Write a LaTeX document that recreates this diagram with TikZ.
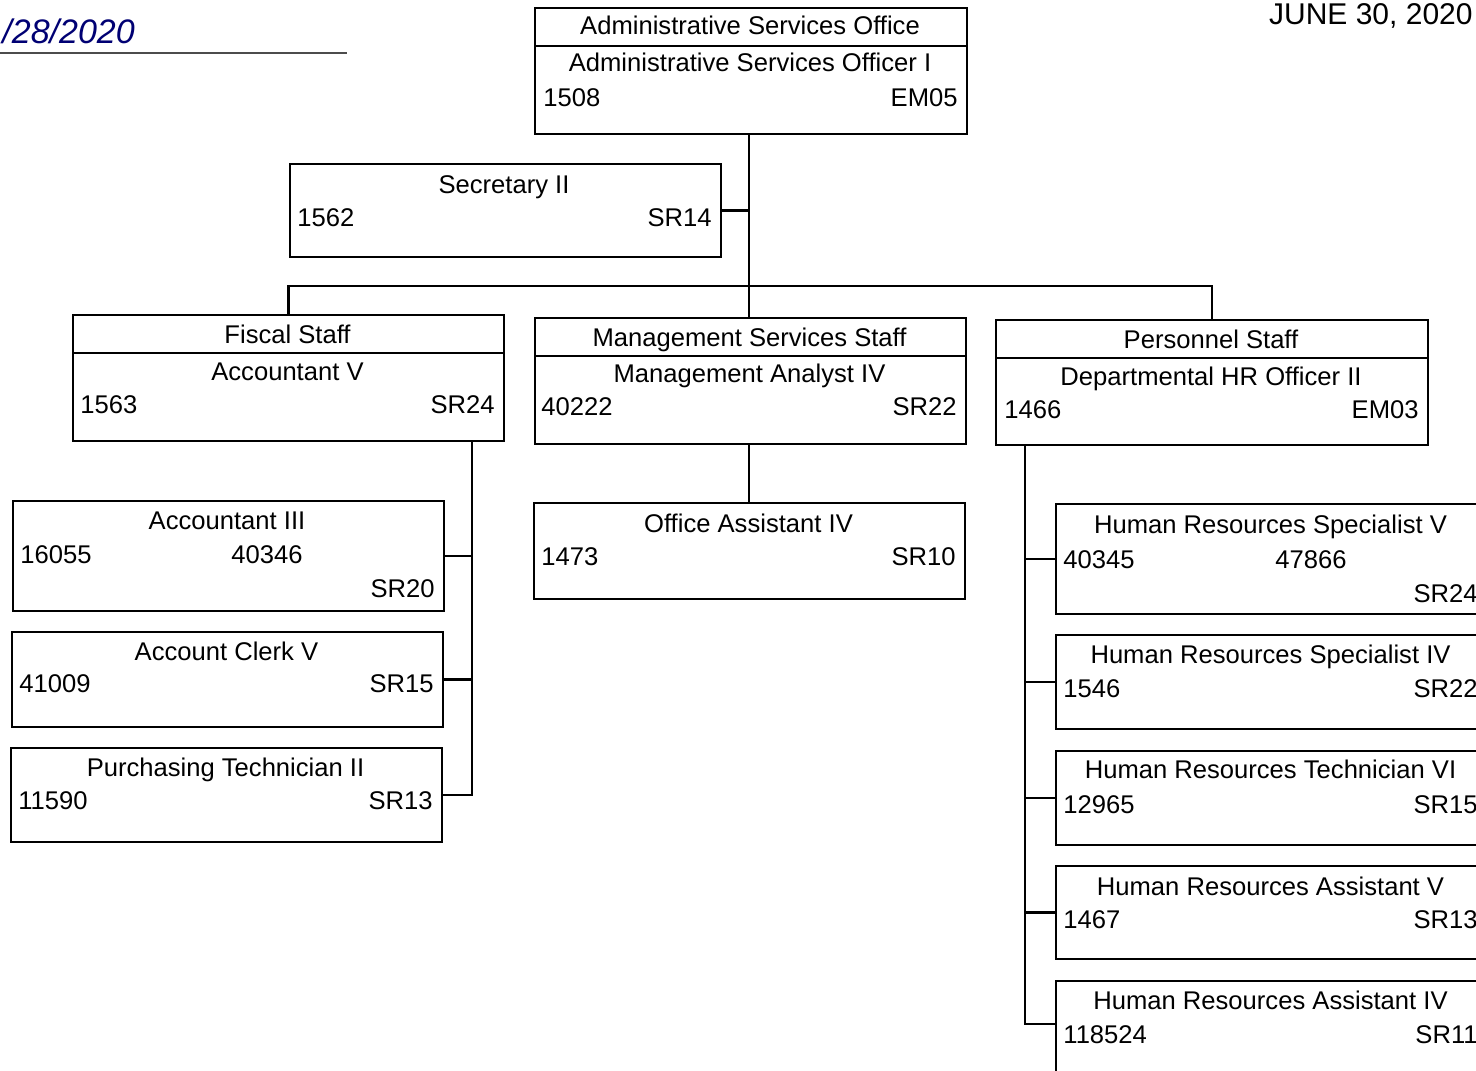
\documentclass[tikz,border=0pt]{standalone}
\usepackage{fontspec}
\setmainfont{Liberation Sans}
\begin{document}
\begin{tikzpicture}[x=0.5pt,y=-0.5pt,
  box/.style={draw, line width=1pt, rectangle, inner sep=0pt, anchor=north west},
  conn/.style={line width=1.2pt},
  t/.style={font=\fontsize{12.8}{15}\selectfont, inner sep=0pt, anchor=base},
  tl/.style={t, anchor=base west},
  tr/.style={t, anchor=base east}]
\useasboundingbox (0,0) rectangle (1476,1070);
\clip (0,0) rectangle (1476,1070);
\fill[white] (0,0) rectangle (1476,1070);

% handwritten date and underline
\node[inner sep=0pt, anchor=base west, text=blue!45!black, font=\fontsize{17}{20}\selectfont\itshape] (hw) at (2,44) {/28/2020};
\draw[line width=0.6pt, black!70] (0,53) -- (347,53);
% date at top right
\node[inner sep=0pt, anchor=base east, font=\fontsize{15}{18}\selectfont] (date) at (1473,25) {JUNE 30, 2020};

% ---------- boxes ----------
\node[box, minimum width=216pt, minimum height=63pt] (aso) at (534,7) {};
\draw[line width=1pt] ([yshift=-19.5pt]aso.north west) -- ([yshift=-19.5pt]aso.north east);
\node[t] (aso1) at (750,35) {Administrative Services Office};
\node[t] (aso2) at (750,72) {Administrative Services Officer I};
\node[tl] (aso3) at (543,106) {1508};
\node[tr] (aso4) at (958,106) {EM05};

\node[box, minimum width=215.5pt, minimum height=46.5pt] (sec) at (289,163) {};
\node[t] (sec1) at (504,193) {Secretary II};
\node[tl] (sec2) at (297,226) {1562};
\node[tr] (sec3) at (712,226) {SR14};

\node[box, minimum width=215.5pt, minimum height=63pt] (fis) at (72,314) {};
\draw[line width=1pt] ([yshift=-19.5pt]fis.north west) -- ([yshift=-19.5pt]fis.north east);
\node[t] (fis1) at (287.5,343) {Fiscal Staff};
\node[t] (fis2) at (287.5,380) {Accountant V};
\node[tl] (fis3) at (80,413) {1563};
\node[tr] (fis4) at (495,413) {SR24};

\node[box, minimum width=215.5pt, minimum height=63pt] (mgt) at (534,317) {};
\draw[line width=1pt] ([yshift=-19.5pt]mgt.north west) -- ([yshift=-19.5pt]mgt.north east);
\node[t] (mgt1) at (749.5,346) {Management Services Staff};
\node[t] (mgt2) at (749.5,382) {Management Analyst IV};
\node[tl] (mgt3) at (541,415) {40222};
\node[tr] (mgt4) at (957,415) {SR22};

\node[box, minimum width=216pt, minimum height=62.5pt] (per) at (995,319) {};
\draw[line width=1pt] ([yshift=-19.5pt]per.north west) -- ([yshift=-19.5pt]per.north east);
\node[t] (per1) at (1211,348) {Personnel Staff};
\node[t] (per2) at (1211,385) {Departmental HR Officer II};
\node[tl] (per3) at (1004,418) {1466};
\node[tr] (per4) at (1419,418) {EM03};

\node[box, minimum width=215.5pt, minimum height=55pt] (ac3) at (12,500) {};
\node[t] (ac31) at (227,529) {Accountant III};
\node[tl] (ac32) at (20,563) {16055};
\node[tl] (ac33) at (231,563) {40346};
\node[tr] (ac34) at (435,597) {SR20};

\node[box, minimum width=215.5pt, minimum height=47.5pt] (clk) at (11,631) {};
\node[t] (clk1) at (226.5,660) {Account Clerk V};
\node[tl] (clk2) at (19,692) {41009};
\node[tr] (clk3) at (434,692) {SR15};

\node[box, minimum width=215.5pt, minimum height=47pt] (pur) at (10,747) {};
\node[t] (pur1) at (225.5,776) {Purchasing Technician II};
\node[tl] (pur2) at (18,809) {11590};
\node[tr] (pur3) at (433,809) {SR13};

\node[box, minimum width=215.5pt, minimum height=48pt] (off) at (533,502) {};
\node[t] (off1) at (748.5,532) {Office Assistant IV};
\node[tl] (off2) at (541,565) {1473};
\node[tr] (off3) at (956,565) {SR10};

\node[box, minimum width=215.5pt, minimum height=55pt] (hs5) at (1055,503) {};
\node[t] (hs51) at (1270.5,533) {Human Resources Specialist V};
\node[tl] (hs52) at (1063,568) {40345};
\node[tl] (hs53) at (1275,568) {47866};
\node[tr] (hs54) at (1478,602) {SR24};

\node[box, minimum width=215.5pt, minimum height=47pt] (hs4) at (1055,634) {};
\node[t] (hs41) at (1270.5,663) {Human Resources Specialist IV};
\node[tl] (hs42) at (1063,697) {1546};
\node[tr] (hs43) at (1478,697) {SR22};

\node[box, minimum width=215.5pt, minimum height=47pt] (ht6) at (1055,750) {};
\node[t] (ht61) at (1270.5,778) {Human Resources Technician VI};
\node[tl] (ht62) at (1063,813) {12965};
\node[tr] (ht63) at (1478,813) {SR15};

\node[box, minimum width=215.5pt, minimum height=46.5pt] (ha5) at (1055,865) {};
\node[t] (ha51) at (1270.5,895) {Human Resources Assistant V};
\node[tl] (ha52) at (1063,928) {1467};
\node[tr] (ha53) at (1478,928) {SR13};

\node[box, minimum width=215.5pt, minimum height=60pt] (ha4) at (1055,980) {};
\node[t] (ha41) at (1270.5,1009) {Human Resources Assistant IV};
\node[tl] (ha42) at (1063,1043) {118524};
\node[tr] (ha43) at (1478,1043) {SR11};

% ---------- connectors ----------
\coordinate (trunk) at (749,133);
\draw[conn] (trunk) -- (trunk |- mgt.north);
\draw[conn] (sec.east) -- (sec.east -| trunk);
\draw[conn, line join=miter] (fis.north) -- ++(0,-28) -| (per.north);

\coordinate (ftop) at (472,440);
\draw[conn] (ftop) |- (pur.east);
\draw[conn] (ac3.east) -- (ac3.east -| ftop);
\draw[conn] (clk.east) -- (clk.east -| ftop);

\draw[conn] (mgt.south -| trunk) -- (off.north -| trunk);

\coordinate (ptop) at (1025,444);
\coordinate (plast) at (1055,1024);
\draw[conn] (ptop) |- (plast);
\draw[conn] (hs5.west) -- (hs5.west -| ptop);
\draw[conn] (hs4.west) -- (hs4.west -| ptop);
\draw[conn] (ht6.west) -- (ht6.west -| ptop);
\draw[conn] (ha5.west) -- (ha5.west -| ptop);
\end{tikzpicture}
\end{document}
